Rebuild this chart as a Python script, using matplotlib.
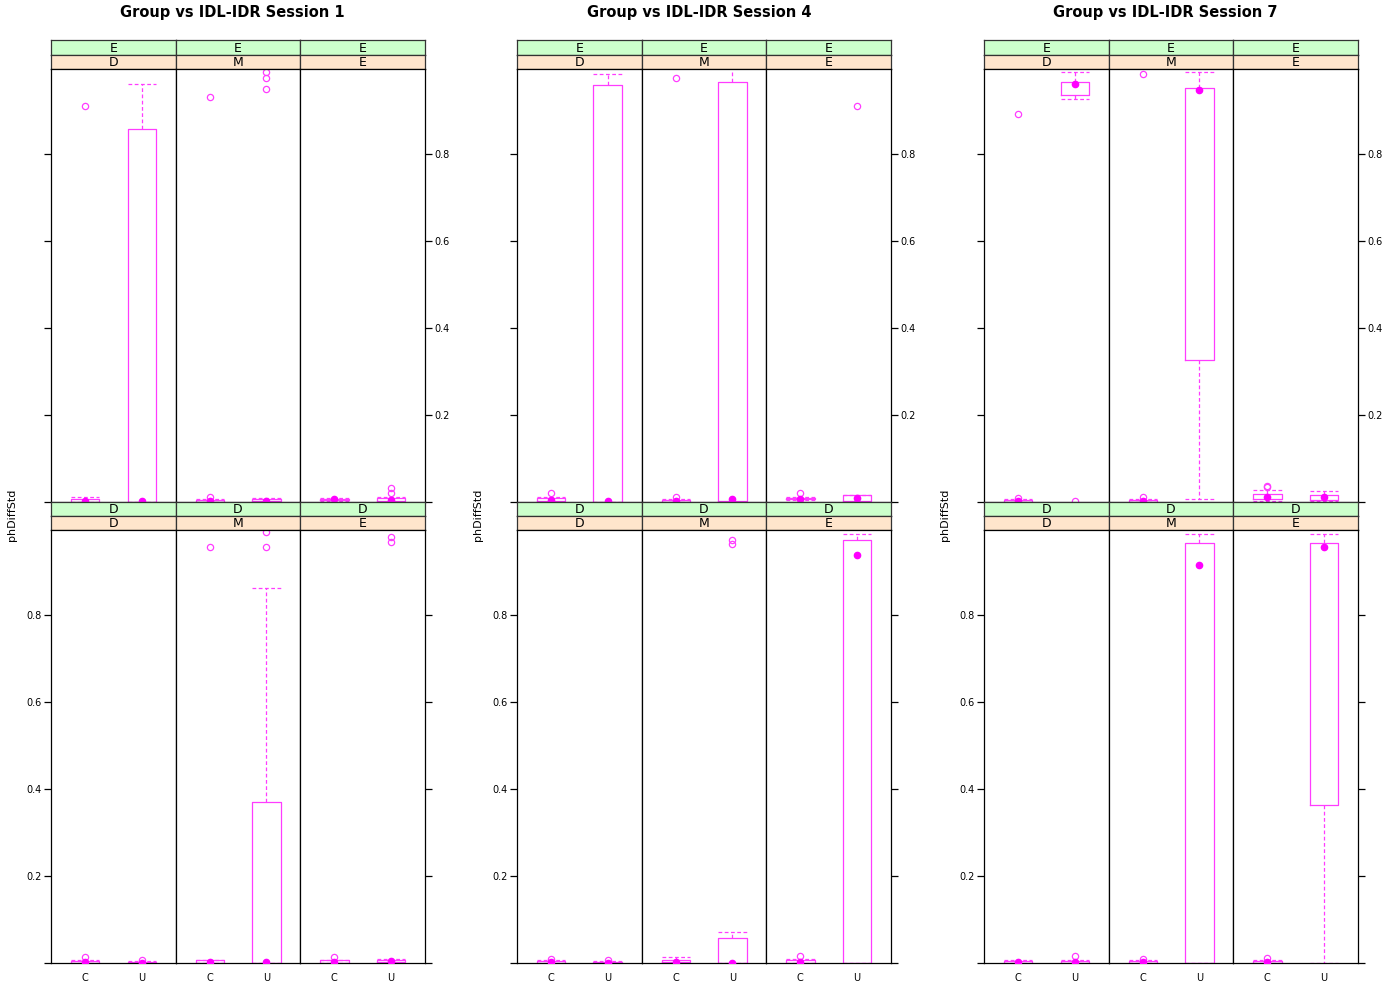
import matplotlib
matplotlib.use("Agg")
import matplotlib.pyplot as plt

# --- data: box statistics ---
# order inside each session: panels (E/D, E/M, E/E, D/D, D/M, D/E), each with (C, U)
SESSIONS = ["Session 1", "Session 4", "Session 7"]
ROW_STRIPS = ["E", "D"]            # green strips, top row then bottom row
COL_STRIPS = ["D", "M", "E"]       # peach strips
GROUPS = ["C", "U"]

WHISLO = [
    [0, 0, 0, 0, 0.003, 0, 0, 0, 0, 0, 0, 0.001],
    [0, 0, 0, 0, 0.004, 0, 0, 0, 0, 0, 0, 0],
    [0, 0.926, 0, 0.007, 0.003, 0.002, 0, 0, 0, 0, 0, 0],
]
Q1 = [
    [0.001, 0.001, 0.001, 0.002, 0.004, 0.002, 0.001, 0.0005, 0.001, 0.0005, 0.001, 0.002],
    [0.002, 0.001, 0.001, 0.002, 0.006, 0.002, 0.001, 0.0005, 0.002, 0.0005, 0.001, 0.001],
    [0.001, 0.936, 0.001, 0.326, 0.007, 0.005, 0.001, 0.001, 0.001, 0.001, 0.001, 0.364],
]
MED = [
    [0.003, 0.003, 0.002, 0.003, 0.006, 0.005, 0.003, 0.001, 0.003, 0.002, 0.003, 0.005],
    [0.005, 0.003, 0.003, 0.008, 0.008, 0.010, 0.003, 0.001, 0.003, 0.001, 0.003, 0.938],
    [0.002, 0.961, 0.003, 0.947, 0.011, 0.012, 0.002, 0.002, 0.002, 0.915, 0.003, 0.956],
]
Q3 = [
    [0.008, 0.857, 0.005, 0.006, 0.008, 0.010, 0.005, 0.002, 0.006, 0.371, 0.006, 0.007],
    [0.009, 0.959, 0.005, 0.966, 0.010, 0.015, 0.004, 0.002, 0.006, 0.058, 0.006, 0.972],
    [0.004, 0.966, 0.005, 0.952, 0.018, 0.016, 0.004, 0.004, 0.004, 0.965, 0.005, 0.965],
]
WHISHI = [
    [0.012, 0.961, 0.008, 0.009, 0.010, 0.012, 0.007, 0.004, 0.008, 0.862, 0.008, 0.009],
    [0.012, 0.984, 0.008, 0.998, 0.012, 0.016, 0.006, 0.004, 0.013, 0.071, 0.009, 0.986],
    [0.006, 0.989, 0.008, 0.989, 0.028, 0.025, 0.006, 0.006, 0.006, 0.986, 0.007, 0.986],
]
OUTLIERS = [
    [[0.910], [], [0.931, 0.011], [0.989, 0.975, 0.949], [], [0.020, 0.032],
     [0.014], [0.008], [0.956], [0.991, 0.956], [0.013], [0.981, 0.968]],
    [[0.020], [], [0.975, 0.012], [], [0.020], [0.910],
     [0.010], [0.008], [], [0.972, 0.963], [0.015], []],
    [[0.892, 0.010], [0.003], [0.984, 0.012], [], [0.034, 0.037], [],
     [], [0.015], [0.010], [], [0.012], []],
]
Y_TICKS = [0, 0.2, 0.4, 0.6, 0.8]
Y_LABELS = ["", "0.2", "0.4", "0.6", "0.8"]

# --- layout (pixels) ---
W, H = 1400, 1000
PLOT_X0 = [51, 517, 984]
PANEL_W = 374 / 3
ROW_GEOM = [  # (green top, peach top, panel top, panel bottom)
    (40, 55, 69, 502),
    (502, 516, 530, 963),
]
BOX_COL = "#ff3cff"
DOT_COL = "#ff00ff"
GREEN = "#ccffcc"
PEACH = "#ffe5cc"

fig = plt.figure(figsize=(W / 100, H / 100), dpi=100)


def fig_axes(x0, y0, x1, y1):
    return fig.add_axes([x0 / W, 1 - y1 / H, (x1 - x0) / W, (y1 - y0) / H])


def strip(x0, y0, x1, y1, color, label):
    ax = fig_axes(x0, y0, x1, y1)
    ax.set_facecolor(color)
    ax.set_xticks([])
    ax.set_yticks([])
    for s in ax.spines.values():
        s.set_linewidth(0.9)
        s.set_color("#333333")
    ax.text(0.5, 0.45, label, ha="center", va="center", fontsize=9,
            transform=ax.transAxes)


for si, title in enumerate(SESSIONS):
    x_base = PLOT_X0[si]
    fig.text((si * W / 3 + W / 6 - 1) / W, 1 - 12 / H, "Group vs IDL-IDR " + title,
             ha="center", va="center", fontsize=10.5, fontweight="bold")
    fig.text((x_base - 39) / W, 1 - 515 / H, "phDiffStd", rotation=90,
             ha="center", va="center", fontsize=8)

    for r in range(2):
        g0, p0, a0, a1 = ROW_GEOM[r]
        for c in range(3):
            x0 = x_base + c * PANEL_W
            x1 = x0 + PANEL_W
            strip(x0, g0, x1, p0, GREEN, ROW_STRIPS[r])
            strip(x0, p0, x1, a0, PEACH, COL_STRIPS[c])

            ax = fig_axes(x0, a0, x1, a1)
            p = r * 3 + c
            stats = []
            for g in range(2):
                k = p * 2 + g
                stats.append(dict(whislo=WHISLO[si][k], q1=Q1[si][k], med=MED[si][k],
                                  q3=Q3[si][k], whishi=WHISHI[si][k],
                                  fliers=OUTLIERS[si][k]))
            ax.bxp(stats, positions=[1, 2], widths=0.5, capwidths=0.5,
                   boxprops=dict(color=BOX_COL, linewidth=0.9),
                   whiskerprops=dict(color=BOX_COL, linewidth=0.9, linestyle=(0, (3, 2))),
                   capprops=dict(color=BOX_COL, linewidth=0.9, linestyle=(0, (3, 2))),
                   medianprops=dict(linestyle="none"),
                   flierprops=dict(marker="o", markerfacecolor="none",
                                   markeredgecolor=BOX_COL, markersize=4.5,
                                   markeredgewidth=0.9))
            ax.plot([1, 2], [s["med"] for s in stats], "o", color=DOT_COL,
                    markersize=4.5, zorder=5)
            ax.set_xlim(0.4, 2.6)
            ax.set_ylim(0, 0.996)
            for s in ax.spines.values():
                s.set_linewidth(0.9)

            # x axis only on the bottom row
            if r == 1:
                ax.set_xticks([1, 2])
                ax.set_xticklabels(GROUPS, fontsize=7)
                ax.tick_params(axis="x", length=0, pad=7)
            else:
                ax.set_xticks([])

            # y axis alternates: bottom row labelled left, top row labelled right
            ax.set_yticks([])
            if c == 0 or c == 2:
                ax.set_yticks(Y_TICKS)
                labelled = (r == 1 and c == 0) or (r == 0 and c == 2)
                ax.set_yticklabels(Y_LABELS if labelled else [""] * 5, fontsize=7)
                if c == 0:
                    ax.tick_params(axis="y", left=True, right=False, labelleft=True,
                                   labelright=False, length=5, width=0.9, pad=2)
                else:
                    ax.tick_params(axis="y", left=False, right=True, labelleft=False,
                                   labelright=True, length=5, width=0.9, pad=2)

fig.savefig("out.png", dpi=100)
